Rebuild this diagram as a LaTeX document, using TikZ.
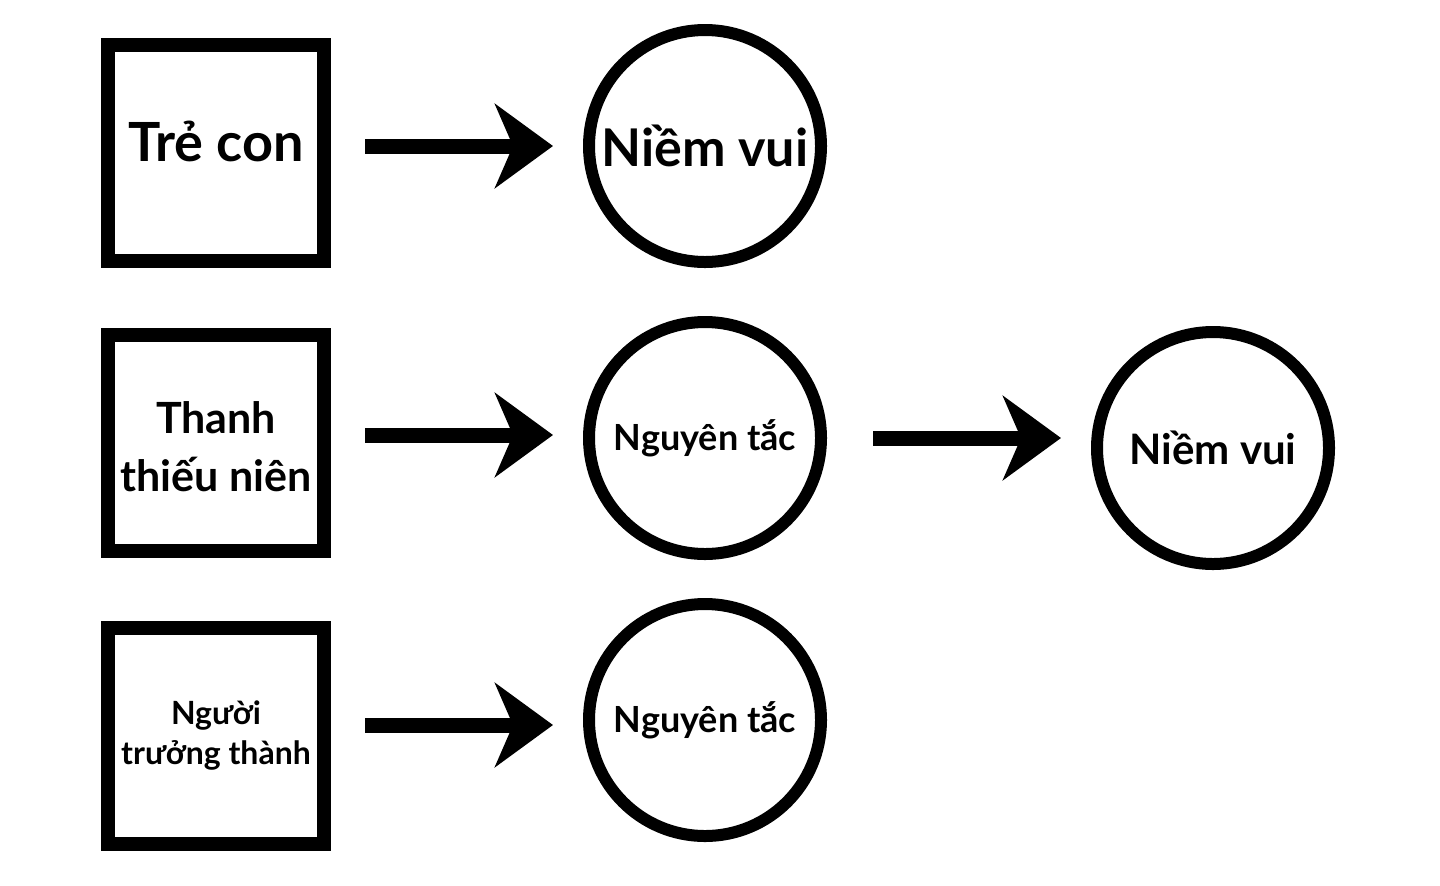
\documentclass[tikz,border=0pt]{standalone}
\usepackage{fontspec}
\setmainfont{Lato}
\usetikzlibrary{arrows.meta}

\begin{document}
\begin{tikzpicture}
    [x=0.5pt, y=-0.5pt, font=\bfseries,
    box/.style={rectangle, draw, line width=7pt, minimum size=108pt, align=center, inner sep=0pt},
    ring/.style={circle, draw, line width=6pt, minimum size=116pt, inner sep=0pt},
    arr/.style={line width=7.5pt, -{Stealth[length=29pt, width=42pt, inset=9pt]}, shorten <=17pt, shorten >=15pt}]
    \useasboundingbox (0,0) rectangle (1440,885);
    % left column
    \node[box, text depth=12pt, font=\bfseries\fontsize{27}{30}\selectfont] (child) at (216,153){Trẻ con};
    \node[box, font=\bfseries\fontsize{21.5}{29}\selectfont] (teen) at (216,443){\rule{0pt}{20pt}Thanh\\thiếu niên};
    \node[box, font=\bfseries\fontsize{16}{20}\selectfont] (adult) at (216,736){Người\\trưởng thành};
    % circles
    \node[ring, font=\bfseries\fontsize{26}{30}\selectfont] (joyA) at (705,146){Niềm vui};
    \node[ring, font=\bfseries\fontsize{18}{20}\selectfont] (ruleA) at (705,438){Nguyên tắc};
    \node[ring, font=\bfseries\fontsize{18}{20}\selectfont] (ruleB) at (705,720){Nguyên tắc};
    \node[ring, font=\bfseries\fontsize{21}{24}\selectfont] (joyB) at (1213,448){Niềm vui};
    % arrows
    \draw[arr] (child.east |- joyA) -- (joyA);
    \draw[arr] (teen.east |- 0,435) -- (ruleA.west |- 0,435);
    \draw[arr] (adult.east |- 0,725) -- (ruleB.west |- 0,725);
    \draw[arr, shorten <=23pt] (ruleA) -- (joyB.west |- ruleA);
\end{tikzpicture}
\end{document}
